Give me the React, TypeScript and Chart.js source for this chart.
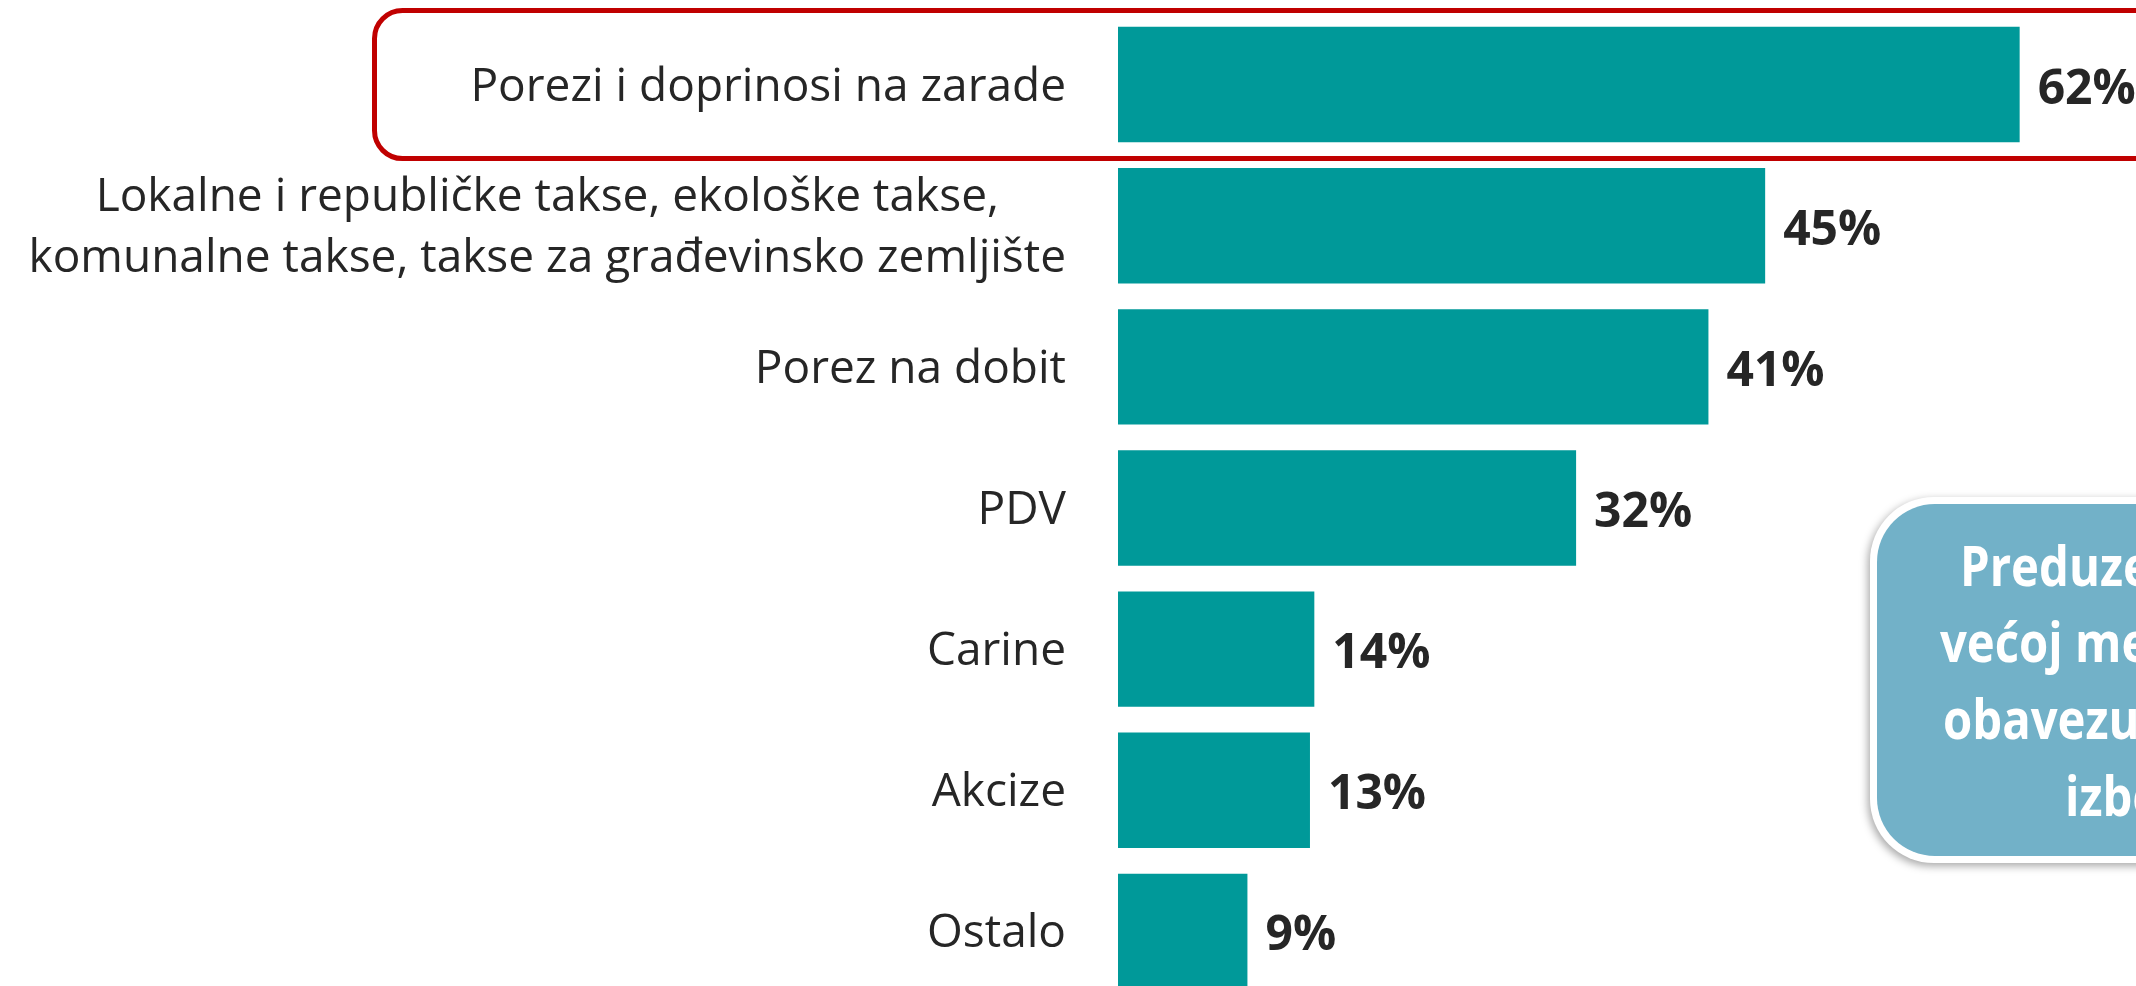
import React, { useEffect, useRef } from "react";
import { Chart, registerables } from "chart.js";
Chart.register(...registerables);

const categories: (string | string[])[] = [
  "Porezi i doprinosi na zarade",
  ["Lokalne i republičke takse, ekološke takse,", "komunalne takse, takse za građevinsko zemljište"],
  "Porez na dobit",
  "PDV",
  "Carine",
  "Akcize",
  "Ostalo",
];
const values = [62, 44.5, 40.6, 31.5, 13.5, 13.2, 8.9];
const valueLabels = ["62%", "45%", "41%", "32%", "14%", "13%", "9%"];
const calloutLines = ["Preduzeća u", "većoj meri", "obavezuju", "izbegavaju"];

const TEAL = "#009999";
const TEXT = "#262626";

const overlay = {
  id: "overlay",
  afterDraw(chart: any) {
    const ctx = chart.ctx as CanvasRenderingContext2D;
    const xs = chart.scales.x;
    const ys = chart.scales.y;

    // category labels
    ctx.save();
    ctx.fillStyle = TEXT;
    ctx.font = '46px "Open Sans"';
    ctx.textBaseline = "alphabetic";
    ctx.textAlign = "center";
    categories.forEach((c, i) => {
      const yc = ys.getPixelForValue(i);
      const lines = Array.isArray(c) ? c : [c];
      const maxW = Math.max(...lines.map((l) => ctx.measureText(l).width));
      const right = xs.left - 52;
      const pitch = 61;
      lines.forEach((l, k) => {
        const base = yc + 16 + (k - (lines.length - 1) / 2) * pitch;
        ctx.fillText(l, right - maxW / 2, base);
      });
    });

    // value labels
    ctx.font = 'bold 48px "Open Sans"';
    ctx.textAlign = "left";
    values.forEach((v, i) => {
      ctx.fillText(valueLabels[i], xs.getPixelForValue(v) + 18, ys.getPixelForValue(i) + 19);
    });
    ctx.restore();

    // red highlight box around the first row
    const c1 = ys.getPixelForValue(0);
    ctx.save();
    ctx.strokeStyle = "#c00000";
    ctx.lineWidth = 5;
    ctx.beginPath();
    ctx.roundRect(374.5, c1 - 74, 2400 - 374.5, 148, 28);
    ctx.stroke();
    ctx.restore();

    // callout box
    ctx.save();
    ctx.shadowColor = "rgba(0,0,0,0.35)";
    ctx.shadowBlur = 8;
    ctx.shadowOffsetX = -2;
    ctx.shadowOffsetY = 3;
    ctx.fillStyle = "#ffffff";
    ctx.beginPath();
    ctx.roundRect(1870, 497, 600, 366, 64);
    ctx.fill();
    ctx.restore();
    ctx.save();
    ctx.fillStyle = "#72b1c8";
    ctx.beginPath();
    ctx.roundRect(1877, 504, 600, 352, 58);
    ctx.fill();
    ctx.fillStyle = "#ffffff";
    ctx.font = 'bold 56px "Open Sans"';
    ctx.textAlign = "left";
    ctx.textBaseline = "alphabetic";
    const sx = 163 / ctx.measureText("Preduz").width;
    const starts = [1960, 1940, 1943, 2065];
    const bases = [586, 662, 739, 816];
    calloutLines.forEach((l, k) => {
      ctx.save();
      ctx.translate(starts[k], bases[k]);
      ctx.scale(sx, 1);
      ctx.fillText(l, 0, 0);
      ctx.restore();
    });
    ctx.restore();
  },
};

export default function App() {
  const ref = useRef<HTMLCanvasElement>(null);
  useEffect(() => {
    document.body.style.margin = "0";
    document.body.style.overflow = "hidden";
    document.documentElement.style.overflow = "hidden";
    const chart = new Chart(ref.current!, {
      type: "bar",
      data: {
        labels: categories as any,
        datasets: [
          {
            data: values,
            backgroundColor: TEAL,
            borderWidth: 0,
            barPercentage: 0.818,
            categoryPercentage: 1,
          },
        ],
      },
      options: {
        indexAxis: "y",
        animation: false,
        responsive: false,
        devicePixelRatio: 1,
        layout: { padding: { left: 1118, right: 0, top: 14, bottom: 0 } },
        plugins: { legend: { display: false }, tooltip: { enabled: false } },
        scales: {
          x: { min: 0, max: 70, display: false },
          y: { display: false },
        },
      },
      plugins: [overlay],
    });
    return () => chart.destroy();
  }, []);
  return (
    <div style={{ position: "fixed", left: 0, top: 0, width: 2136, height: 986, overflow: "hidden", background: "#fff" }}>
      <canvas ref={ref} width={2136} height={1002} style={{ display: "block" }} />
    </div>
  );
}
